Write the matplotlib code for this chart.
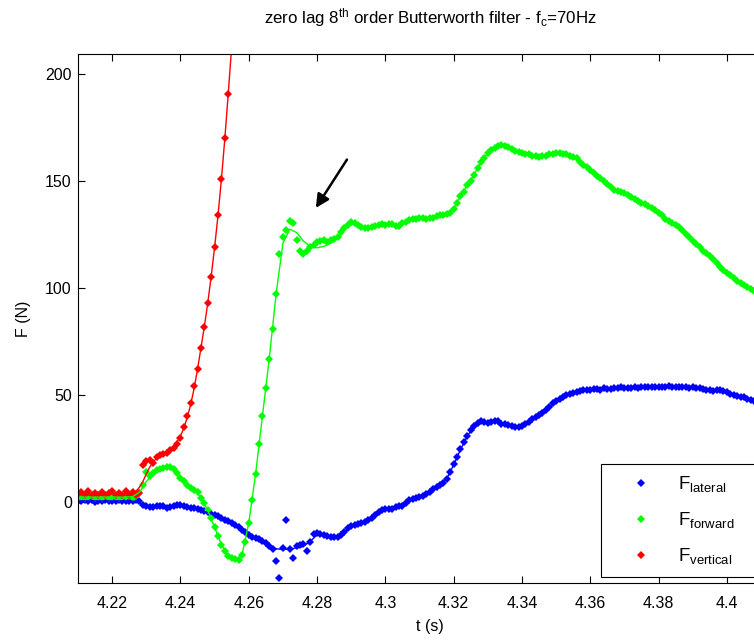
import numpy as np
import matplotlib
matplotlib.use("Agg")
import matplotlib.pyplot as plt
from matplotlib.ticker import FormatStrFormatter

plt.rcParams['font.family'] = ['Liberation Sans', 'DejaVu Sans']
plt.rcParams['mathtext.fontset'] = 'custom'
plt.rcParams['mathtext.rm'] = 'Liberation Sans'
plt.rcParams['mathtext.it'] = 'Liberation Sans:italic'

## sampled at 1 kHz, raw samples start at t0
t0 = 4.210
dt = 0.001
dt_filt = 0.002

# raw lateral force (N), 4.210 .. 4.408
f_lateral = [
    0.5, 0.2, 0.8, 0.3, 0.6, 0.1, 0.5, 0.4, 0.7, 0.2,
    0.5, 0.3, 0.6, 0.4, 0.2, 0.5, 0.3, 0.6, 0.4, -1.5,
    -2.0, -2.5, -2.5, -2.0, -1.8, -2.2, -2.7, -2.3, -1.8, -1.5,
    -1.5, -2.0, -2.3, -2.7, -3.0, -3.5, -4.0, -4.5, -5.0, -5.5,
    -6.0, -6.8, -7.5, -8.3, -9.0, -10.0, -11.0, -12.0, -13.0, -14.0,
    -15.5, -16.5, -17.0, -17.5, -18.5, -19.5, -20.5, -22.0, -27.5, -35.5,
    -21.5, -8.5, -22.0, -26.3, -20.5, -20.0, -19.8, -23.0, -19.0, -15.0,
    -14.5, -15.0, -15.5, -16.0, -16.5, -16.7, -16.7, -15.5, -14.0, -12.5,
    -11.5, -11.0, -10.5, -10.0, -9.5, -8.5, -7.5, -6.0, -5.0, -4.0,
    -3.4, -3.4, -3.2, -2.5, -2.2, -1.9, -0.5, 0.8, 1.4, 2.0,
    2.3, 2.6, 3.5, 4.8, 5.8, 6.7, 7.8, 9.0, 10.8, 14.0,
    17.5, 21.0, 24.5, 28.0, 31.0, 33.5, 35.5, 37.0, 38.0, 37.5,
    37.0, 37.4, 38.0, 37.6, 36.6, 36.2, 35.8, 35.5, 35.0, 34.8,
    35.5, 36.5, 37.5, 38.5, 39.5, 40.5, 41.5, 43.0, 44.5, 46.0,
    47.2, 48.3, 49.2, 50.0, 50.5, 51.0, 51.5, 52.0, 52.2, 52.5,
    52.3, 52.8, 52.8, 52.5, 53.0, 52.8, 52.6, 53.0, 53.3, 53.6,
    53.4, 53.0, 53.2, 53.5, 53.3, 53.6, 53.8, 53.5, 53.9, 53.7,
    53.5, 53.8, 53.6, 54.0, 53.8, 53.6, 53.9, 53.5, 53.7, 53.4,
    53.6, 53.2, 53.0, 52.6, 52.2, 52.5, 52.0, 52.3, 52.5, 52.0,
    51.5, 50.5, 49.8, 49.5, 49.0, 48.8, 48.2, 47.7, 47.3]

# raw forward force (N), 4.210 .. 4.408
f_forward = [
    2.0, 2.4, 1.8, 2.2, 2.6, 1.9, 2.3, 2.0, 2.5, 1.8,
    2.2, 2.4, 1.9, 2.3, 2.1, 2.5, 2.0, 2.6, 4.0, 8.0,
    14.0, 12.0, 13.5, 15.0, 15.5, 16.0, 16.5, 16.5, 15.5, 13.5,
    11.0, 9.5, 8.0, 6.5, 5.5, 4.5, 2.0, -0.5, -4.0, -7.5,
    -12.0, -16.0, -20.0, -23.0, -25.5, -26.5, -27.0, -27.3, -25.0, -19.0,
    -10.0, 1.0, 13.0, 27.0, 40.0, 53.0, 67.0, 81.0, 97.0, 116.0,
    124.0, 127.0, 131.5, 130.5, 122.5, 117.5, 116.0, 117.5, 119.0, 120.0,
    121.5, 122.0, 122.5, 121.5, 122.5, 123.0, 124.0, 126.0, 128.0, 129.5,
    131.0, 130.5, 129.5, 128.5, 128.0, 128.2, 128.5, 129.0, 129.3, 129.8,
    129.5, 130.0, 130.0, 129.0, 129.0, 130.5, 131.0, 132.0, 132.5, 132.5,
    133.0, 133.0, 132.5, 133.0, 133.0, 133.5, 134.0, 134.0, 134.5, 135.0,
    137.0, 140.0, 143.0, 145.0, 148.0, 150.0, 153.0, 156.0, 159.0, 161.0,
    163.0, 164.5, 165.5, 166.5, 167.0, 166.5, 166.0, 165.0, 164.0, 163.5,
    163.0, 162.5, 162.5, 162.0, 162.0, 161.5, 162.0, 162.0, 162.5, 162.5,
    163.0, 163.0, 162.5, 162.5, 162.0, 161.5, 161.0, 159.0, 157.5, 156.5,
    155.0, 154.0, 152.5, 151.5, 150.0, 148.5, 147.5, 146.0, 145.5, 145.0,
    144.5, 143.5, 142.5, 141.5, 140.5, 140.0, 139.5, 138.5, 137.5, 136.5,
    135.0, 134.0, 132.5, 131.5, 130.5, 129.5, 128.5, 127.0, 125.5, 124.0,
    122.0, 120.5, 119.0, 117.5, 116.5, 115.0, 113.5, 111.5, 110.0, 108.5,
    107.0, 106.0, 104.5, 103.5, 102.5, 101.5, 100.5, 99.5, 98.5]

# raw vertical force (N), 4.210 .. 4.255 (goes off the top after that)
f_vertical = [
    3.5, 4.5, 3.0, 5.0, 3.2, 4.2, 3.0, 4.8, 3.4, 4.0,
    5.2, 3.1, 4.1, 3.3, 5.0, 3.2, 4.4, 3.0, 4.0, 17.0,
    19.0, 19.5, 18.0, 21.0, 22.0, 22.5, 23.0, 24.0, 25.0, 27.0,
    30.0, 35.0, 40.0, 46.0, 54.0, 62.0, 72.0, 82.0, 93.0, 105.0,
    119.0, 134.0, 151.0, 170.0, 191.0, 213.0]

# filtered curves (thin lines)
filt_lateral = [
    0.4, 0.4, 0.4, 0.4, 0.4, 0.4, 0.4, 0.4, 0.3, -0.5,
    -1.8, -2.3, -2.1, -2.3, -1.9, -1.7, -2.3, -3.0, -4.0, -5.0,
    -6.0, -7.5, -9.0, -11.0, -13.0, -15.3, -17.0, -18.6, -20.5, -22.0,
    -22.3, -22.2, -21.5, -20.8, -18.5, -15.5, -15.5, -16.3, -16.4, -14.2,
    -11.7, -10.6, -9.5, -7.5, -5.0, -3.5, -3.1, -2.3, -0.6, 1.3,
    2.3, 3.6, 5.8, 7.8, 10.8, 17.3, 24.4, 30.8, 35.3, 37.7,
    37.2, 37.8, 36.7, 35.8, 35.1, 35.6, 37.5, 39.5, 41.6, 44.4,
    47.2, 49.1, 50.5, 51.5, 52.2, 52.5, 52.7, 52.8, 52.8, 53.2,
    53.4, 53.3, 53.4, 53.7, 53.7, 53.6, 53.7, 53.8, 53.7, 53.6,
    53.5, 53.0, 52.4, 52.2, 52.3, 51.5, 49.9, 49.1, 48.3, 47.4]

filt_forward = [
    2.2, 2.2, 2.2, 2.2, 2.2, 2.2, 2.2, 2.2, 2.4, 4.5,
    9.5, 13.0, 15.2, 16.3, 15.6, 11.3, 8.0, 5.5, 2.0, -4.0,
    -12.0, -20.0, -25.3, -27.0, -25.0, -10.0, 13.0, 40.0, 67.0, 97.0,
    121.0, 127.5, 126.0, 122.0, 119.5, 118.8, 119.5, 121.0, 123.5, 127.5,
    130.0, 129.5, 128.3, 128.5, 129.2, 129.7, 129.8, 129.3, 130.7, 132.3,
    133.0, 132.7, 133.0, 133.8, 134.5, 137.0, 143.0, 148.0, 153.0, 159.0,
    163.0, 165.5, 166.8, 166.0, 164.0, 163.0, 162.5, 162.0, 162.0, 162.5,
    163.0, 162.6, 162.0, 161.0, 157.6, 155.0, 152.5, 150.0, 147.5, 145.5,
    144.5, 142.5, 140.6, 139.5, 137.5, 135.0, 132.6, 130.5, 128.5, 125.5,
    122.0, 119.0, 116.5, 113.5, 110.0, 107.0, 104.6, 102.5, 100.5, 98.5]

# vertical filtered, every 1 ms
filt_vertical = [
    3.8, 3.8, 3.8, 3.8, 3.8, 3.8, 3.8, 3.8, 3.8, 3.8,
    3.8, 3.8, 3.8, 3.8, 3.8, 3.9, 4.2, 5.0, 6.8, 9.5,
    13.0, 16.2, 18.6, 20.4, 21.8, 22.8, 23.7, 24.7, 26.0, 28.0,
    30.8, 34.5, 39.5, 45.5, 53.0, 62.0, 72.0, 82.0, 93.0, 105.5,
    119.0, 134.0, 151.0, 170.0, 191.0, 213.0]

xticks = [4.22, 4.24, 4.26, 4.28, 4.30, 4.32, 4.34, 4.36, 4.38, 4.40]
yticks = [0, 50, 100, 150, 200]

blue = (0, 0, 1)
green = (0, 1, 0)
red = (1, 0, 0)

def tgrid(n, step):
    return t0 + step * np.arange(n)

fig = plt.figure(figsize=(7.54, 6.40), dpi=100)
# axes runs past the right edge of the picture (cropped matlab figure)
ax = fig.add_axes([78/754, 1 - 583/640, 704/754, 529/640])

mk = dict(ls='none', marker='D', ms=4.4, mew=0)
ax.plot(tgrid(len(f_lateral), dt), f_lateral, color=blue, label=r'F$_{\mathrm{lateral}}$', **mk)
ax.plot(tgrid(len(f_forward), dt), f_forward, color=green, label=r'F$_{\mathrm{forward}}$', **mk)
ax.plot(tgrid(len(f_vertical), dt), f_vertical, color=red, label=r'F$_{\mathrm{vertical}}$', **mk)

ax.plot(tgrid(len(filt_lateral), dt_filt), filt_lateral, color=blue, lw=1.0)
ax.plot(tgrid(len(filt_forward), dt_filt), filt_forward, color=green, lw=1.0)
ax.plot(tgrid(len(filt_vertical), dt), filt_vertical, color=red, lw=1.0)

ax.set_xlim(4.21, 4.21 + 704/3415)
ax.set_ylim(-38, 209.5)
ax.set_xticks(xticks)
ax.set_yticks(yticks)
ax.xaxis.set_major_formatter(FormatStrFormatter('%g'))
ax.tick_params(direction='in', length=5, width=0.8, top=True, right=True,
               labelsize=11.5)
ax.tick_params(axis='x', pad=9)
ax.tick_params(axis='y', pad=4.5)
for s in ax.spines.values():
    s.set_linewidth(0.8)

ax.set_xlabel('t (s)', fontsize=11.5, labelpad=6)
ax.set_ylabel('F (N)', fontsize=11.5, labelpad=10)
ax.set_title(r'zero lag 8$^{\mathrm{th}}$ order Butterworth filter - f$_{\mathrm{c}}$=70Hz',
             fontsize=12.2, pad=22)

# arrow pointing at the filter overshoot
ax.annotate('', xy=(4.2792, 136.4), xytext=(4.2892, 161.2),
            arrowprops=dict(arrowstyle='-|>', color='k', lw=1.8, mutation_scale=20))

# legend box also runs off the right edge, like the cropped original
leg_x0, leg_top, leg_w, leg_h = 601/754, 1 - 464/640, 190/754, 114/640
leg = ax.legend(loc='upper left', bbox_to_anchor=(leg_x0, leg_top - leg_h, leg_w, leg_h),
                bbox_transform=fig.transFigure, borderaxespad=0, mode='expand',
                numpoints=1, markerscale=0.9, fontsize=13.5, fancybox=False,
                framealpha=1, edgecolor='k', handlelength=3.2, handletextpad=0.35,
                labelspacing=0.85, borderpad=0.55)
leg.get_frame().set_linewidth(0.8)

fig.savefig('out.png', dpi=100)
